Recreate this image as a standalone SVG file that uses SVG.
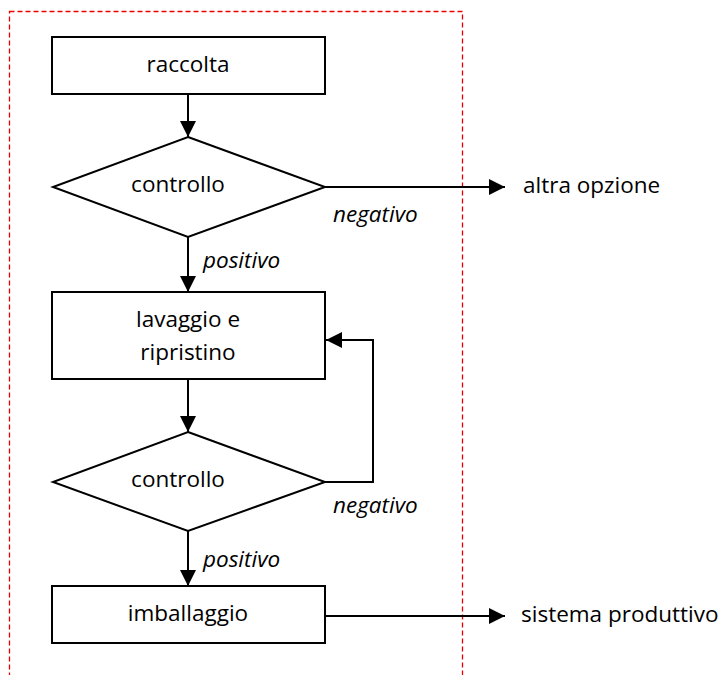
<svg xmlns="http://www.w3.org/2000/svg" width="726" height="675" viewBox="0 0 726 675">
<style>
.box{fill:#fff;stroke:#000;stroke-width:2}
.ln{fill:none;stroke:#000;stroke-width:2}
.t{font-family:"Open Sans","Noto Sans",sans-serif;font-size:22.5px;fill:#000}
.c{text-anchor:middle}
.i{font-style:italic}
</style>
<defs>
<marker id="ah" viewBox="0 0 16 16" refX="16" refY="8" markerWidth="16" markerHeight="16" markerUnits="userSpaceOnUse" orient="auto">
<path d="M0,0 L16,8 L0,16 Z" fill="#000"/>
</marker>
</defs>
<rect x="9.5" y="11.5" width="453" height="700" fill="none" stroke="#e00" stroke-width="1.3" stroke-dasharray="5 3"/>
<g id="connectors">
<line class="ln" x1="188" y1="94" x2="188" y2="137" marker-end="url(#ah)"/>
<line class="ln" x1="325" y1="187" x2="505" y2="187" marker-end="url(#ah)"/>
<line class="ln" x1="188" y1="237" x2="188" y2="292" marker-end="url(#ah)"/>
<line class="ln" x1="188" y1="379" x2="188" y2="432" marker-end="url(#ah)"/>
<polyline class="ln" points="325,482 373,482 373,340 326,340" marker-end="url(#ah)"/>
<line class="ln" x1="188" y1="531" x2="188" y2="586" marker-end="url(#ah)"/>
<line class="ln" x1="325" y1="616" x2="505" y2="616" marker-end="url(#ah)"/>
<text class="t i" x="333" y="222">negativo</text>
<text class="t i" x="203" y="268">positivo</text>
<text class="t i" x="333" y="513">negativo</text>
<text class="t i" x="203" y="567">positivo</text>
</g>
<g id="raccolta">
<rect class="box" x="52" y="37" width="273" height="57"/>
<text class="t c" x="188" y="72">raccolta</text>
</g>
<g id="controllo1">
<polygon class="box" points="188,137 325,187 188,237 53,187"/>
<text class="t c" x="178" y="192">controllo</text>
</g>
<g id="lavaggio">
<rect class="box" x="52" y="292" width="273" height="87"/>
<text class="t c" x="188" y="327">lavaggio e</text>
<text class="t c" x="188" y="360">ripristino</text>
</g>
<g id="controllo2">
<polygon class="box" points="188,432 325,482 188,531 53,482"/>
<text class="t c" x="178" y="487">controllo</text>
</g>
<g id="imballaggio">
<rect class="box" x="52" y="586" width="273" height="57"/>
<text class="t c" x="188" y="621">imballaggio</text>
</g>
<g id="altra">
<text class="t" x="523" y="193">altra opzione</text>
</g>
<g id="sistema">
<text class="t" x="521" y="622">sistema produttivo</text>
</g>
</svg>
